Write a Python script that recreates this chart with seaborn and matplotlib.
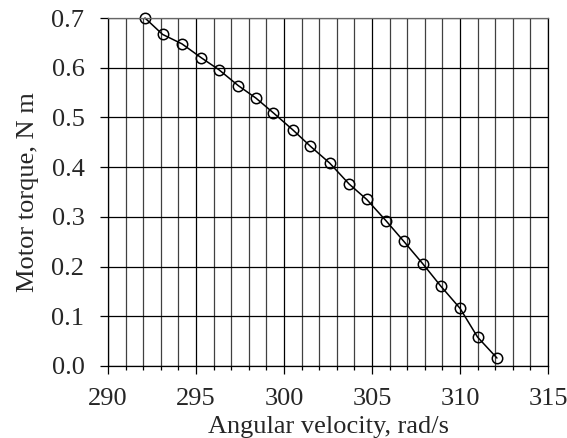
import pandas as pd
import matplotlib
matplotlib.use("Agg")
import matplotlib.pyplot as plt
import seaborn as sns
from matplotlib.ticker import MultipleLocator, FormatStrFormatter

# angular velocity (rad/s) and motor torque (N m)
velocity = [292.1, 293.1, 294.2, 295.3, 296.3, 297.4, 298.4, 299.4, 300.5, 301.5,
            302.6, 303.7, 304.7, 305.8, 306.8, 307.9, 308.9, 310.0, 311.0, 312.1]
torque = [0.700, 0.667, 0.648, 0.620, 0.596, 0.564, 0.539, 0.509, 0.475, 0.442,
          0.408, 0.366, 0.335, 0.292, 0.251, 0.205, 0.161, 0.116, 0.058, 0.016]

df = pd.DataFrame({"velocity": velocity, "torque": torque})

sns.set_style("white")
plt.rcParams["font.family"] = ["Liberation Serif", "DejaVu Serif"]

fig = plt.figure(figsize=(5.67, 4.38), dpi=100)
ax = fig.add_axes([0.1905, 0.1644, 0.776, 0.7945])

ax.xaxis.set_major_locator(MultipleLocator(5))
ax.xaxis.set_minor_locator(MultipleLocator(1))
ax.yaxis.set_major_locator(MultipleLocator(0.1))
ax.yaxis.set_major_formatter(FormatStrFormatter("%.1f"))

ax.grid(which="major", axis="both", color="black", linewidth=0.9)
ax.grid(which="minor", axis="x", color="0.25", linewidth=0.9)
ax.set_axisbelow(True)

sns.lineplot(data=df, x="velocity", y="torque", ax=ax, color="black",
             linewidth=1.1, marker="o", markersize=7.5,
             markerfacecolor="none", markeredgecolor="black",
             markeredgewidth=1.1, clip_on=False)

ax.set_xlim(290, 315)
ax.set_ylim(0.0, 0.7)

for s in ax.spines.values():
    s.set_color("black")
    s.set_linewidth(0.9)
ax.spines["top"].set_color("0.4")

ax.tick_params(which="major", direction="out", length=6, width=0.9,
               labelsize=19, color="black", bottom=True, left=True)
ax.tick_params(axis="x", which="major", pad=9.5)
ax.tick_params(axis="y", which="major", pad=11)
ax.tick_params(which="minor", axis="x", direction="out", length=3,
               width=0.9, color="black", bottom=True)

ax.set_xlabel("Angular velocity, rad/s", fontsize=19, labelpad=5)
ax.set_ylabel("Motor torque, N m", fontsize=19, labelpad=9)

fig.savefig("out.png", dpi=100)
